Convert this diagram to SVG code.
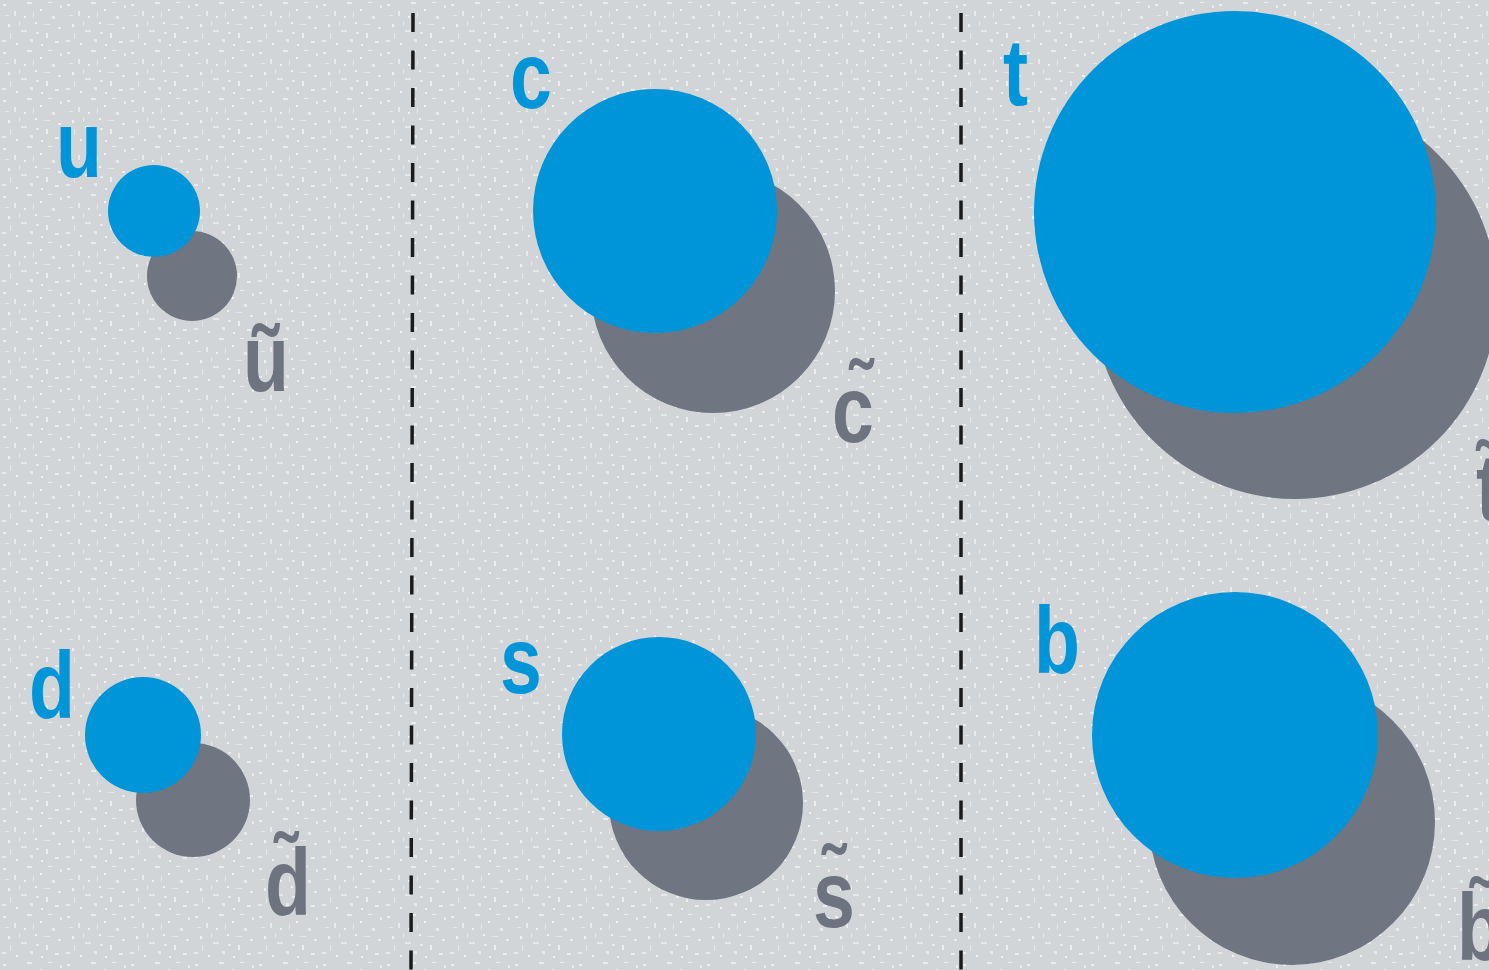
<svg xmlns="http://www.w3.org/2000/svg" width="1489" height="970" viewBox="0 0 1489 970">
<style>
.bq{fill:#0094d8}
.gq{fill:#6f7682}
.lb{font-family:"Liberation Sans","Arial",sans-serif;font-weight:bold;font-size:94px;fill:#0094d8}
.lg{font-family:"Liberation Sans","Arial",sans-serif;font-weight:bold;font-size:94px;fill:#6d7480}
.dash{stroke:#1b1b1b;stroke-width:3.5;stroke-dasharray:19 18.5;fill:none}
.w{fill:#fff}
</style>
<defs>
<pattern id="speck" width="64" height="48" patternUnits="userSpaceOnUse">
<rect class="w" x="3" y="4" width="3" height="2" opacity="0.6"/>
<rect class="w" x="14" y="11" width="2" height="5" opacity="0.5"/>
<rect class="w" x="27" y="2" width="5" height="2" opacity="0.55"/>
<rect class="w" x="40" y="9" width="2" height="2" opacity="0.75"/>
<rect class="w" x="52" y="16" width="3" height="3" opacity="0.5"/>
<rect class="w" x="8" y="24" width="2" height="3" opacity="0.65"/>
<rect class="w" x="21" y="30" width="6" height="2" opacity="0.45"/>
<rect class="w" x="35" y="22" width="2" height="2" opacity="0.7"/>
<rect class="w" x="46" y="33" width="2" height="5" opacity="0.55"/>
<rect class="w" x="58" y="27" width="3" height="2" opacity="0.6"/>
<rect class="w" x="2" y="40" width="4" height="2" opacity="0.5"/>
<rect class="w" x="16" y="43" width="2" height="2" opacity="0.75"/>
<rect class="w" x="30" y="39" width="3" height="3" opacity="0.45"/>
<rect class="w" x="41" y="44" width="2" height="2" opacity="0.65"/>
<rect class="w" x="55" y="41" width="4" height="2" opacity="0.55"/>
<rect class="w" x="24" y="16" width="2" height="2" opacity="0.65"/>
<rect class="w" x="60" y="5" width="2" height="3" opacity="0.55"/>
<rect class="w" x="10" y="33" width="1" height="6" opacity="0.4"/>
<rect class="w" x="33" y="12" width="1" height="6" opacity="0.4"/>
<rect class="w" x="48" y="2" width="4" height="1" opacity="0.5"/>
<rect class="w" x="44" y="24" width="6" height="1" opacity="0.4"/>
<rect class="w" x="5" y="15" width="4" height="1" opacity="0.45"/>
<rect class="w" x="36" y="32" width="3" height="2" opacity="0.5"/>
<rect class="w" x="19" y="22" width="1" height="4" opacity="0.5"/>
</pattern>
</defs>
<rect width="1489" height="970" fill="#d1d5d8"/>
<rect width="1489" height="970" fill="url(#speck)"/>

<g id="dividers">
<line class="dash" x1="413" y1="13" x2="411" y2="970"/>
<line class="dash" x1="961" y1="13" x2="961" y2="970"/>
</g>

<g id="node-u">
<circle class="gq" cx="192" cy="276" r="45"/>
<circle class="bq" cx="154" cy="211" r="46"/>
<text class="lb" transform="translate(56,177) scale(0.8,1)">u</text>
<text class="lg" transform="translate(243,392) scale(0.8,1)">ũ</text>
</g>

<g id="node-d">
<circle class="gq" cx="193" cy="800" r="57"/>
<circle class="bq" cx="143" cy="735" r="58"/>
<text class="lb" transform="translate(29,718) scale(0.8,1)">d</text>
<text class="lg" transform="translate(265,915) scale(0.8,1)">d̃</text>
</g>

<g id="node-c">
<circle class="gq" cx="713" cy="291" r="122"/>
<circle class="bq" cx="655" cy="211" r="122"/>
<text class="lb" transform="translate(510,108) scale(0.8,1)">c</text>
<text class="lg" transform="translate(832,442) scale(0.8,1)">c̃</text>
</g>

<g id="node-s">
<circle class="gq" cx="706" cy="803" r="97"/>
<circle class="bq" cx="659" cy="734" r="97"/>
<text class="lb" transform="translate(500,693) scale(0.8,1)">s</text>
<text class="lg" transform="translate(813,927) scale(0.8,1)">s̃</text>
</g>

<g id="node-t">
<circle class="gq" cx="1295" cy="297" r="202"/>
<circle class="bq" cx="1235" cy="212" r="201"/>
<text class="lb" transform="translate(1003,105) scale(0.8,1)">t</text>
<text class="lg" transform="translate(1476,520) scale(0.8,1)">t̃</text>
</g>

<g id="node-b">
<circle class="gq" cx="1292" cy="822" r="143"/>
<circle class="bq" cx="1235" cy="735" r="143"/>
<text class="lb" transform="translate(1034,673) scale(0.8,1)">b</text>
<text class="lg" transform="translate(1457,960) scale(0.8,1)">b̃</text>
</g>
</svg>
